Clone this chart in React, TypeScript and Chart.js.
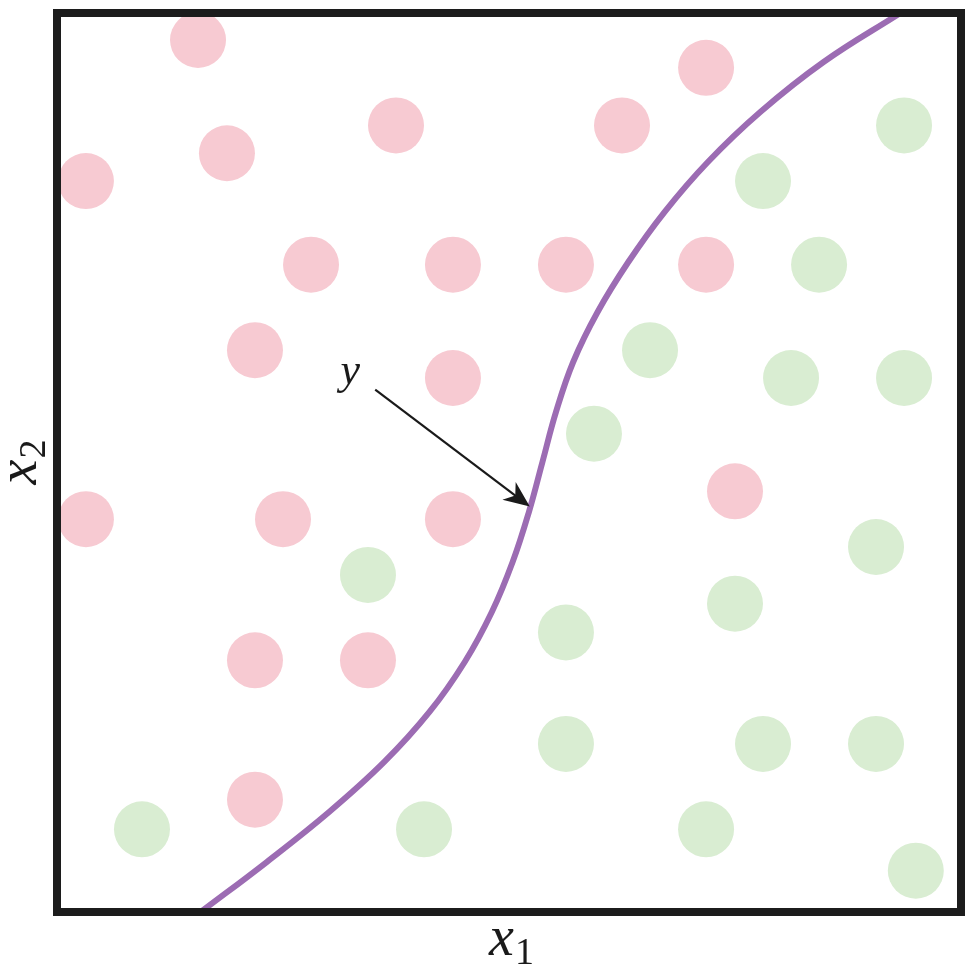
import React, { useEffect, useRef } from "react";
import { Chart, registerables } from "chart.js";

Chart.register(...registerables);

// Class A (pink) points: [x1, x2]
const pinkX = [15.6, 71.8, 37.5, 62.5, 18.8, 3.2, 28.1, 43.8, 56.3, 71.8, 21.9, 43.8, 75.0, 3.2, 25.0, 43.8, 21.9, 34.4, 21.9];
const pinkY = [97.0, 93.9, 87.5, 87.5, 84.4, 81.3, 72.0, 72.0, 72.0, 72.0, 62.5, 59.4, 46.8, 43.7, 43.7, 43.7, 28.0, 28.0, 12.5];

// Class B (green) points
const greenX = [93.7, 78.1, 84.3, 65.6, 81.2, 93.7, 59.4, 90.6, 34.4, 75.0, 56.3, 56.3, 78.1, 90.6, 9.4, 40.6, 71.8, 95.0];
const greenY = [87.5, 81.3, 72.0, 62.5, 59.4, 59.4, 53.2, 40.6, 37.5, 34.3, 31.1, 18.7, 18.7, 18.7, 9.2, 9.2, 9.2, 4.6];

// Decision boundary y
const curveX = [15.9, 23.2, 30.1, 36.2, 41.2, 45.1, 48.1, 50.4, 52.2, 53.7, 55.2, 57.1, 59.8, 63.2, 67.2, 72.0, 77.8, 84.8, 93.3];
const curveY = [0, 5.56, 11.12, 16.69, 22.25, 27.81, 33.37, 38.93, 44.49, 50.06, 55.62, 61.18, 66.74, 72.3, 77.86, 83.43, 88.99, 94.55, 100];

// Annotation arrow: [start, tip]
const arrowFrom = [35.2, 58.1];
const arrowTo = [52.3, 45.1];
const arrowLabel = "y";
const xTitle = ["x", "1"];
const yTitle = ["x", "2"];

const zip = (xs: number[], ys: number[]) => xs.map((x, i) => ({ x, y: ys[i] }));

export default function App() {
  const ref = useRef<HTMLCanvasElement | null>(null);

  useEffect(() => {
    document.body.style.margin = "0";
    const canvas = ref.current;
    if (!canvas) return;

    const overlay = {
      id: "overlay",
      afterDraw(chart: any) {
        const ctx = chart.ctx as CanvasRenderingContext2D;
        const area = chart.chartArea;
        const xs = chart.scales.x;
        const ys = chart.scales.y;
        ctx.save();
        // frame
        ctx.strokeStyle = "#1c1c1c";
        ctx.lineWidth = 8;
        ctx.strokeRect(area.left, area.top, area.right - area.left, area.bottom - area.top);

        // arrow
        const x0 = xs.getPixelForValue(arrowFrom[0]);
        const y0 = ys.getPixelForValue(arrowFrom[1]);
        const x1 = xs.getPixelForValue(arrowTo[0]);
        const y1 = ys.getPixelForValue(arrowTo[1]);
        const ang = Math.atan2(y1 - y0, x1 - x0);
        const L = 26, W = 11;
        ctx.strokeStyle = "#1a1a1a";
        ctx.fillStyle = "#1a1a1a";
        ctx.lineWidth = 2.2;
        ctx.beginPath();
        ctx.moveTo(x0, y0);
        ctx.lineTo(x1 - Math.cos(ang) * (L * 0.6), y1 - Math.sin(ang) * (L * 0.6));
        ctx.stroke();
        const bx = x1 - Math.cos(ang) * L;
        const by = y1 - Math.sin(ang) * L;
        const nx = -Math.sin(ang), ny = Math.cos(ang);
        const mx = x1 - Math.cos(ang) * (L * 0.7);
        const my = y1 - Math.sin(ang) * (L * 0.7);
        ctx.beginPath();
        ctx.moveTo(x1, y1);
        ctx.lineTo(bx + nx * W, by + ny * W);
        ctx.lineTo(mx, my);
        ctx.lineTo(bx - nx * W, by - ny * W);
        ctx.closePath();
        ctx.fill();

        // arrow label
        ctx.fillStyle = "#1a1a1a";
        ctx.font = "italic 44px 'Liberation Serif'";
        ctx.textAlign = "center";
        ctx.textBaseline = "alphabetic";
        ctx.fillText(arrowLabel, x0 - 25, y0 - 6);

        // x axis title
        const cx = (area.left + area.right) / 2;
        ctx.textAlign = "left";
        ctx.font = "italic 56px 'Liberation Serif'";
        const wx = ctx.measureText(xTitle[0]).width;
        ctx.font = "38px 'Liberation Serif'";
        const ws = ctx.measureText(xTitle[1]).width;
        const startX = cx - (wx + ws) / 2 + 2;
        ctx.font = "italic 56px 'Liberation Serif'";
        ctx.fillText(xTitle[0], startX, 955);
        ctx.font = "38px 'Liberation Serif'";
        ctx.fillText(xTitle[1], startX + wx + 1, 964);

        // y axis title (rotated)
        ctx.translate(36, (area.top + area.bottom) / 2);
        ctx.rotate(-Math.PI / 2);
        ctx.font = "italic 56px 'Liberation Serif'";
        const wy = ctx.measureText(yTitle[0]).width;
        ctx.font = "38px 'Liberation Serif'";
        const wys = ctx.measureText(yTitle[1]).width;
        const sy = -(wy + wys) / 2;
        ctx.font = "italic 56px 'Liberation Serif'";
        ctx.fillText(yTitle[0], sy, 0);
        ctx.font = "38px 'Liberation Serif'";
        ctx.fillText(yTitle[1], sy + wy + 1, 9);
        ctx.restore();
      },
    };

    const chart = new Chart(canvas, {
      type: "scatter",
      data: {
        datasets: [
          {
            label: "curve",
            data: zip(curveX, curveY),
            showLine: true,
            borderColor: "#9c6cb3",
            borderWidth: 6,
            pointRadius: 0,
            tension: 0.4,
            order: 0,
          } as any,
          {
            label: "pink",
            data: zip(pinkX, pinkY),
            backgroundColor: "#f7cad2",
            borderWidth: 0,
            pointRadius: 28,
            order: 2,
          },
          {
            label: "green",
            data: zip(greenX, greenY),
            backgroundColor: "#d9edd2",
            borderWidth: 0,
            pointRadius: 28,
            order: 2,
          },
        ],
      },
      options: {
        animation: false,
        responsive: false,
        maintainAspectRatio: false,
        layout: { autoPadding: false, padding: { left: 57, right: 12, top: 13, bottom: 59 } },
        scales: {
          x: { type: "linear", min: 0, max: 100, display: false },
          y: { type: "linear", min: 0, max: 100, display: false },
        },
        plugins: { legend: { display: false }, tooltip: { enabled: false } },
        events: [],
      },
      plugins: [overlay],
    });
    return () => chart.destroy();
  }, []);

  return (
    <div style={{ width: 973, height: 971 }}>
      <canvas ref={ref} width={973} height={971} style={{ display: "block" }} />
    </div>
  );
}
